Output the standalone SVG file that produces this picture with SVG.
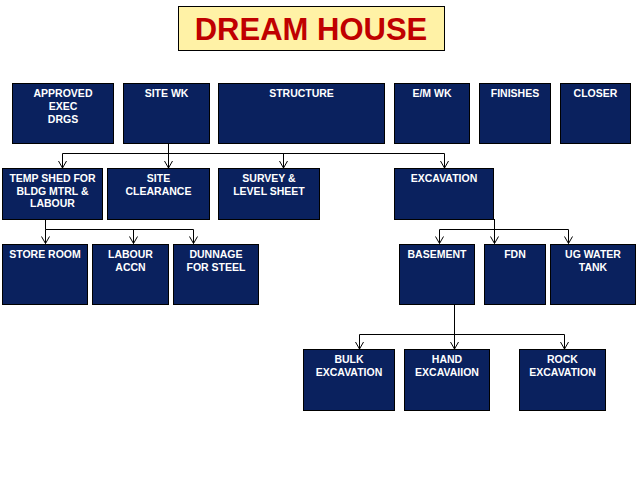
<svg xmlns="http://www.w3.org/2000/svg" width="638" height="479" viewBox="0 0 638 479">
<defs>
<style>
.box{fill:#0a215e;stroke:#000;stroke-width:1}
.t{font-family:"Liberation Sans",Arial,sans-serif;font-weight:bold;font-size:10.5px;fill:#fff;text-anchor:middle}
.c{fill:none;stroke:#000;stroke-width:1}
</style>
<marker id="ah" viewBox="0 0 10 10" refX="10" refY="5" markerWidth="10" markerHeight="10" markerUnits="userSpaceOnUse" orient="auto">
<polyline points="3,1 10,5 3,9" fill="none" stroke="#000" stroke-width="1"/>
</marker>
</defs>
<rect width="638" height="479" fill="#fff"/>
<g id="title">
<rect x="178.5" y="6.5" width="266" height="44" fill="#fff2a6" stroke="#000" stroke-width="1"/>
<text x="311" y="40" font-family="Liberation Sans,Arial,sans-serif" font-weight="bold" font-size="31" fill="#c00000" text-anchor="middle">DREAM HOUSE</text>
</g>
<g id="connectors">
<path class="c" d="M168.5 143.5 V153.5 M62.5 153.5 H444.5"/>
<path class="c" d="M62.5 153.5 V168" marker-end="url(#ah)"/>
<path class="c" d="M168.5 153.5 V168" marker-end="url(#ah)"/>
<path class="c" d="M283.5 153.5 V168" marker-end="url(#ah)"/>
<path class="c" d="M444.5 153.5 V168" marker-end="url(#ah)"/>
<path class="c" d="M45.5 219 V229.5 M45.5 229.5 H193.5"/>
<path class="c" d="M45.5 229.5 V243.5" marker-end="url(#ah)"/>
<path class="c" d="M133.5 229.5 V243.5" marker-end="url(#ah)"/>
<path class="c" d="M193.5 229.5 V243.5" marker-end="url(#ah)"/>
<path class="c" d="M439.5 229.5 H568.5"/>
<path class="c" d="M494.5 219 V243.5" marker-end="url(#ah)"/>
<path class="c" d="M439.5 229.5 V243.5" marker-end="url(#ah)"/>
<path class="c" d="M568.5 229.5 V243.5" marker-end="url(#ah)"/>
<path class="c" d="M454.5 304 V334.5 M359.5 334.5 H564.5"/>
<path class="c" d="M359.5 334.5 V349" marker-end="url(#ah)"/>
<path class="c" d="M454.5 334.5 V349" marker-end="url(#ah)"/>
<path class="c" d="M564.5 334.5 V349" marker-end="url(#ah)"/>
</g>
<g id="approved"><rect class="box" x="12.5" y="83.5" width="101" height="60"/><text class="t" x="63" y="97">APPROVED</text><text class="t" x="63" y="110">EXEC</text><text class="t" x="63" y="123">DRGS</text></g>
<g id="sitewk"><rect class="box" x="123.5" y="83.5" width="86" height="60"/><text class="t" x="166.5" y="97">SITE WK</text></g>
<g id="structure"><rect class="box" x="218.5" y="83.5" width="166" height="60"/><text class="t" x="301.5" y="97">STRUCTURE</text></g>
<g id="emwk"><rect class="box" x="394.5" y="83.5" width="75" height="60"/><text class="t" x="432" y="97">E/M WK</text></g>
<g id="finishes"><rect class="box" x="479.5" y="83.5" width="71" height="60"/><text class="t" x="515" y="97">FINISHES</text></g>
<g id="closer"><rect class="box" x="560.5" y="83.5" width="70" height="60"/><text class="t" x="595.5" y="97">CLOSER</text></g>
<g id="tempshed"><rect class="box" x="2.5" y="168.5" width="100" height="51"/><text class="t" x="52.5" y="182">TEMP SHED FOR</text><text class="t" x="52.5" y="194.5">BLDG MTRL &amp;</text><text class="t" x="52.5" y="207">LABOUR</text></g>
<g id="siteclearance"><rect class="box" x="107.5" y="168.5" width="102" height="51"/><text class="t" x="158.5" y="182">SITE</text><text class="t" x="158.5" y="194.5">CLEARANCE</text></g>
<g id="survey"><rect class="box" x="218.5" y="168.5" width="101" height="51"/><text class="t" x="269" y="182">SURVEY &amp;</text><text class="t" x="269" y="194.5">LEVEL SHEET</text></g>
<g id="excavation"><rect class="box" x="394.5" y="168.5" width="99" height="51"/><text class="t" x="444" y="182">EXCAVATION</text></g>
<g id="storeroom"><rect class="box" x="2.5" y="244.5" width="85" height="60"/><text class="t" x="45" y="258">STORE ROOM</text></g>
<g id="labouraccn"><rect class="box" x="92.5" y="244.5" width="76" height="60"/><text class="t" x="130.5" y="258">LABOUR</text><text class="t" x="130.5" y="271">ACCN</text></g>
<g id="dunnage"><rect class="box" x="173.5" y="244.5" width="85" height="60"/><text class="t" x="216" y="258">DUNNAGE</text><text class="t" x="216" y="271">FOR STEEL</text></g>
<g id="basement"><rect class="box" x="399.5" y="244.5" width="75" height="60"/><text class="t" x="437" y="258">BASEMENT</text></g>
<g id="fdn"><rect class="box" x="484.5" y="244.5" width="61" height="60"/><text class="t" x="515" y="258">FDN</text></g>
<g id="ugwater"><rect class="box" x="550.5" y="244.5" width="85" height="60"/><text class="t" x="593" y="258">UG WATER</text><text class="t" x="593" y="271">TANK</text></g>
<g id="bulk"><rect class="box" x="303.5" y="349.5" width="91" height="61"/><text class="t" x="349" y="363">BULK</text><text class="t" x="349" y="376">EXCAVATION</text></g>
<g id="hand"><rect class="box" x="404.5" y="349.5" width="85" height="61"/><text class="t" x="447" y="363">HAND</text><text class="t" x="447" y="376">EXCAVAIION</text></g>
<g id="rock"><rect class="box" x="519.5" y="349.5" width="86" height="61"/><text class="t" x="562.5" y="363">ROCK</text><text class="t" x="562.5" y="376">EXCAVATION</text></g>
</svg>
